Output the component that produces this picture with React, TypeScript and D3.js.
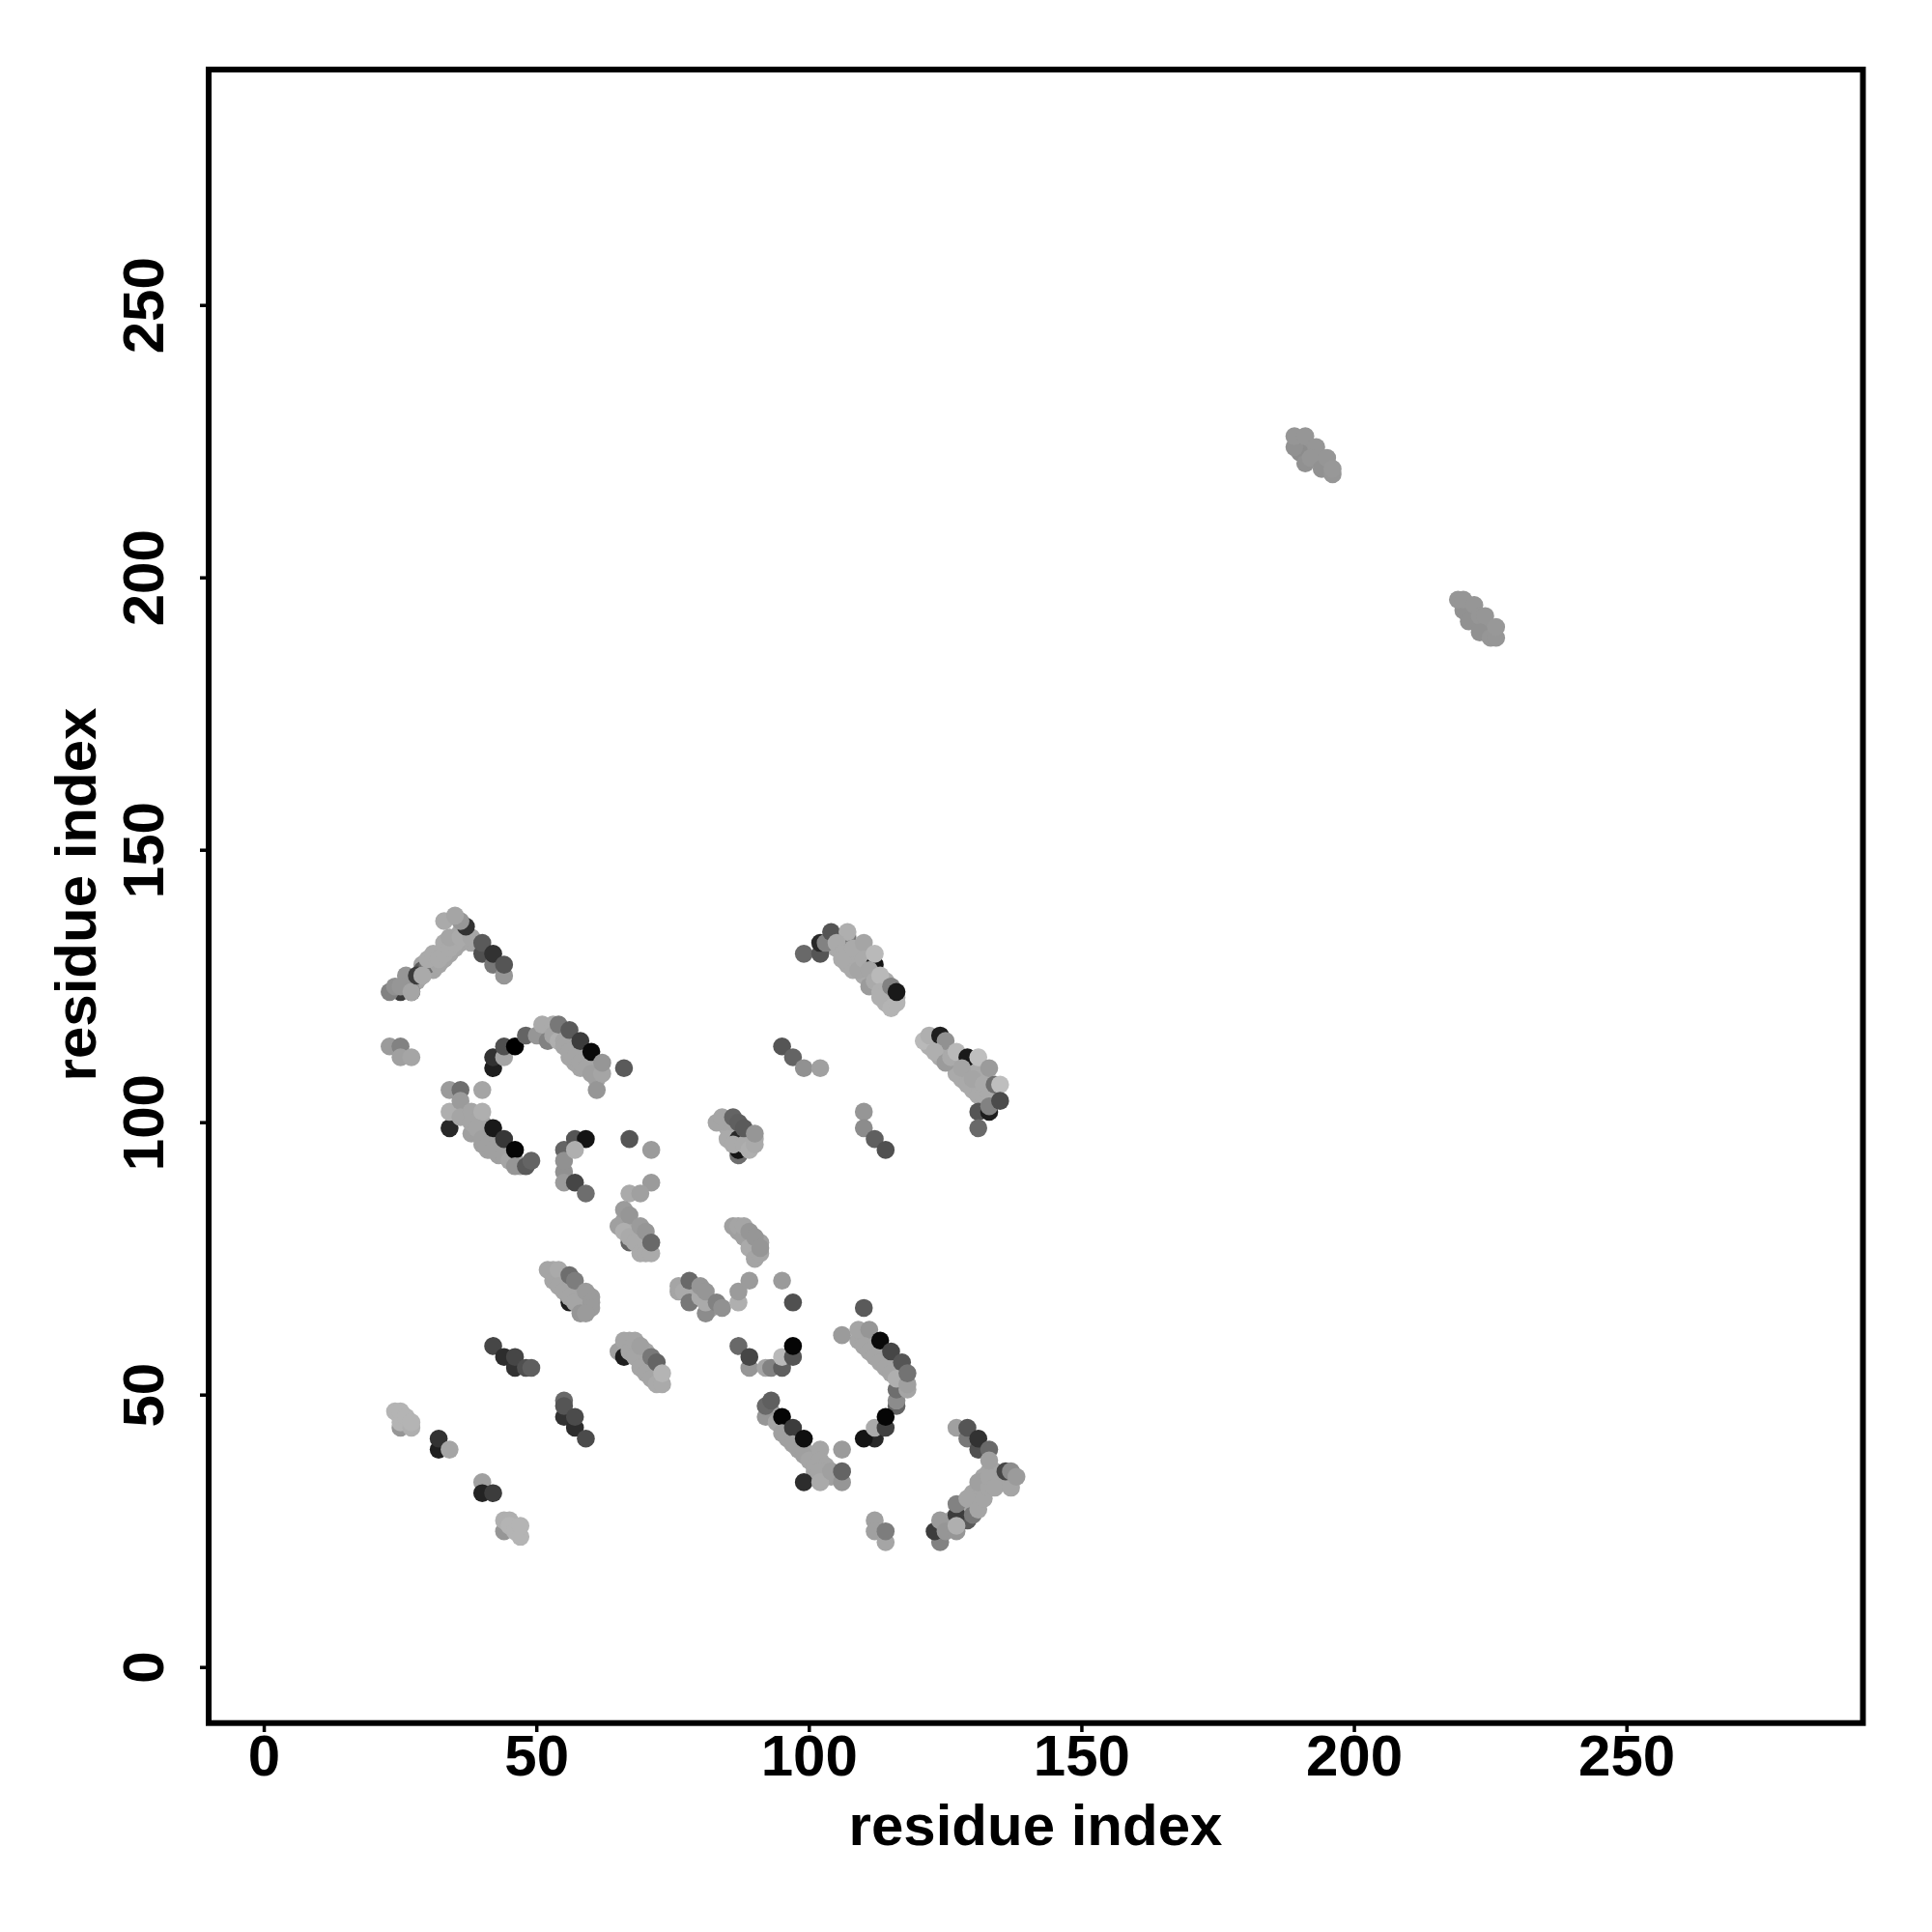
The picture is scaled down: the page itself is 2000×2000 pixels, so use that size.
import React from "react";
import * as d3 from "d3";

type P = [number, number, number];
const xTicks = [0, 50, 100, 150, 200, 250];
const yTicks = [0, 50, 100, 150, 200, 250];
const axisTitle = "residue index";

const fillA: P[] = [[26,125,160],[27,126,165],[28,126,165],[29,127,165],[29,129,165],[30,128,165],[31,129,165],[31,128,165],[32,131,165],[33,130,165],[33,132,165],[34,131,165],[34,133,165],[35,132,165],[35,134,165],[36,133,165],[37,134,165],[36,135,165],[38,133,165]];
const fillB: P[] = [[52,117,170],[53,117,170],[54,116,170],[55,116,165],[56,115,165],[57,114,165],[58,113,165],[59,112,165],[60,111,165],[61,110,165],[60,110,165],[61,108,165],[58,110,165],[57,111,165],[56,112,165]];
const fillC: P[] = [[35,102,170],[36,103,165],[37,102,165],[38,101,165],[39,101,165],[40,100,165],[38,98,160],[39,98,160],[40,96,160],[41,95,160],[42,97,160],[43,94,160],[44,95,160],[45,94,165],[46,93,165]];
const fillE: P[] = [[105,132,170],[106,132,170],[107,131,170],[107,129,170],[108,130,170],[108,128,170],[109,130,170],[109,129,170],[110,128,170],[110,127,170],[111,127,170],[112,127,170],[112,125,170],[113,125,170],[114,126,170],[114,124,175],[114,122,175],[115,123,175],[116,123,175]];
const fillH: P[] = [[122,114,175],[123,114,175],[124,113,170],[124,112,170],[125,112,170],[126,111,170],[127,110,170],[127,109,170],[128,108,170],[129,110,170],[129,107,170],[130,110,170],[130,106,170],[131,109,170],[131,105,170],[132,108,170],[132,105,170],[133,106,170],[134,104,170]];
const fillI: P[] = [[84,100,165],[85,99,170],[86,98,170],[87,98,170],[88,97,170],[88,95,170],[89,97,170],[89,96,170],[90,97,170],[85,100,165]];
const fillJ: P[] = [[66,82,160],[67,81,165],[68,80,165],[68,79,165],[69,79,165],[69,78,170],[70,78,170],[70,77,170],[66,81,165]];
const fillK: P[] = [[87,80,160],[88,80,160],[89,79,160],[89,78,165],[90,78,165],[90,77,165],[91,78,160]];
const fillL: P[] = [[53,73,170],[53,72,165],[54,72,165],[55,71,165],[56,70,165],[57,69,160],[58,68,160],[58,67,160],[59,67,160],[59,68,155],[60,68,155],[55,72,165]];
const fillM: P[] = [[76,69,165],[77,70,165],[78,69,165],[79,68,165],[79,70,165],[80,69,165],[81,68,165],[82,67,160],[82,66,160]];
const fillT: P[] = [[66,59,165],[67,59,165],[67,60,165],[68,59,165],[69,58,165],[69,57,165],[70,58,165],[70,56,165],[71,55,165],[71,54,165],[72,54,170],[72,53,170]];
const fillU: P[] = [[93,47,160],[94,46,160],[95,44,160],[96,44,160],[96,42,160],[97,43,160],[98,40,160],[98,42,160],[99,40,160],[100,39,165],[101,39,165],[101,36,165],[102,35,165],[103,35,165],[103,36,165],[104,35,160]];
const fillW: P[] = [[109,60,165],[110,60,165],[110,61,165],[111,60,165],[112,58,165],[113,58,165],[114,56,165],[115,56,165],[116,55,165]];
const fillX: P[] = [[125,26,155],[126,27,160],[126,26,160],[127,27,165],[128,28,165],[128,29,165],[128,30,165],[129,30,165],[130,32,165],[130,30,165],[131,32,165],[131,31,165],[132,33,165],[133,34,165],[133,36,165],[134,35,165],[135,34,165],[134,36,165],[132,35,165]];
const fillUpper: P[] = [[190,225,148],[190,224,148],[192,224,150],[192,223,150],[193,222,150],[194,222,150],[195,221,150],[195,220,150]];
const fillLower: P[] = [[220,195,148],[221,195,148],[221,194,150],[222,193,150],[223,192,150],[224,191,150],[225,190,150],[224,190,150]];

const archA: P[] = [[25,124,60],[27,124,70],[23,124,130],[24,125,145],[26,127,150],[25,125,150],[27,124,165],[29,128,90],[28,127,60],[30,129,110],[29,127,170],[31,130,110],[32,129,165],[30,130,170],[31,131,170],[32,130,170],[33,131,170],[33,133,170],[34,132,170],[35,133,170],[34,134,165],[36,134,170],[38,134,165],[37,136,50],[33,137,170],[36,137,150],[35,138,165],[40,131,80],[40,133,90],[42,129,120],[42,131,50],[44,127,150],[44,129,85]];
const archB: P[] = [[23,114,155],[25,114,130],[25,112,160],[27,112,165],[42,110,30],[42,112,50],[44,112,165],[44,114,80],[46,114,0],[48,116,100],[50,116,150],[52,115,130],[51,118,170],[53,118,170],[53,116,165],[54,115,175],[54,118,120],[55,115,165],[55,114,165],[56,113,165],[57,112,165],[58,111,165],[59,110,165],[60,109,160],[56,117,90],[58,115,60],[60,113,10],[66,110,90],[61,106,150],[62,109,165],[62,111,150]];
const archC: P[] = [[34,106,155],[36,106,110],[40,106,165],[34,99,40],[34,102,175],[36,104,155],[36,101,165],[38,102,165],[38,100,165],[40,102,175],[39,99,165],[40,97,160],[41,96,160],[42,95,160],[44,94,160],[45,93,165],[42,99,25],[44,97,55],[46,95,5],[47,92,165],[46,92,150],[48,92,90],[49,93,100]];
const clusterD: P[] = [[55,95,100],[55,91,145],[55,93,145],[55,89,155],[57,97,85],[59,97,20],[57,95,175],[57,89,70],[59,87,110],[67,97,85],[71,95,155],[71,89,155],[67,87,170],[69,87,160]];
const archE: P[] = [[99,131,105],[102,131,85],[102,133,40],[103,133,130],[104,135,85],[107,134,120],[107,135,175],[105,133,170],[106,131,170],[106,130,170],[108,132,170],[109,128,165],[110,133,165],[110,130,170],[112,129,20],[112,131,185],[111,128,165],[111,125,155],[112,126,170],[113,127,185],[113,124,175],[113,123,175],[115,125,130],[115,121,180],[116,122,180],[116,124,25]];
const clusterF: P[] = [[95,114,85],[97,112,100],[99,110,145],[102,110,160]];
const clusterG: P[] = [[110,102,150],[110,99,140],[112,97,95],[114,95,80]];
const archH: P[] = [[121,115,185],[122,116,175],[124,116,30],[125,115,145],[123,113,175],[125,111,155],[126,112,170],[127,113,185],[129,112,25],[128,110,165],[130,108,165],[131,112,190],[132,107,170],[133,110,155],[133,105,170],[134,107,110],[135,107,190],[131,102,85],[133,102,30],[133,103,130],[135,104,75],[131,99,105]];
const clusterI: P[] = [[83,100,165],[84,101,165],[85,97,170],[87,94,110],[87,95,20],[87,97,40],[86,96,170],[88,96,170],[89,95,175],[86,101,100],[87,100,95],[88,99,90],[90,96,170],[90,98,150]];
const clusterJ: P[] = [[65,81,160],[66,84,155],[67,83,150],[66,80,175],[67,78,100],[67,79,170],[68,78,170],[69,81,155],[69,76,170],[70,76,170],[70,80,150],[71,76,170],[71,78,105]];
const clusterK: P[] = [[86,81,160],[87,81,165],[88,79,160],[88,81,165],[89,80,150],[89,77,170],[90,79,150],[90,75,165],[91,76,165],[91,77,150]];
const clusterL: P[] = [[52,73,165],[53,71,165],[54,73,170],[54,70,165],[55,69,165],[56,67,30],[56,68,165],[57,67,165],[58,65,150],[56,72,110],[57,71,125],[59,69,155],[60,67,155],[60,66,155],[59,65,155]];
const clusterM: P[] = [[76,70,165],[77,69,170],[78,67,120],[78,71,105],[80,68,170],[80,70,150],[81,65,140],[81,67,170],[81,69,150],[83,67,130],[84,66,145],[87,67,175],[87,69,155],[89,71,155],[95,71,155],[97,67,80]];
const clusterN: P[] = [[42,59,70],[44,57,45],[46,55,50],[46,57,70],[48,55,80],[49,55,95]];
const clusterO: P[] = [[55,49,105],[55,46,50],[55,48,85],[57,44,45],[57,46,75],[59,42,75]];
const clusterP: P[] = [[25,44,150],[24,47,180],[25,47,180],[25,45,180],[26,46,180],[27,44,175],[27,45,180]];
const clusterQ: P[] = [[32,40,30],[32,42,50],[34,40,165]];
const clusterR: P[] = [[40,34,160],[40,32,35],[42,32,60]];
const clusterS: P[] = [[44,25,150],[44,27,175],[45,27,175],[45,26,180],[46,25,180],[47,24,180],[47,26,180]];
const clusterT: P[] = [[65,58,160],[66,57,30],[66,60,165],[67,58,165],[68,60,165],[68,57,165],[69,59,160],[69,55,165],[70,54,165],[71,57,120],[71,53,165],[72,56,100],[72,52,170],[73,52,170],[73,54,180]];
const clusterV: P[] = [[87,59,105],[89,55,150],[89,57,70],[92,55,165],[93,55,130],[95,55,95],[95,57,185],[97,57,85],[97,59,5]];
const archU: P[] = [[92,46,150],[92,48,105],[93,49,95],[94,45,165],[95,46,5],[95,43,160],[97,44,60],[97,41,160],[99,39,160],[99,42,15],[99,34,45],[100,38,165],[101,37,165],[102,40,165],[102,38,165],[103,37,165],[102,36,165],[102,34,170],[104,36,160],[106,40,155],[106,34,150],[106,36,100]];
const archW: P[] = [[110,66,90],[106,61,155],[109,62,165],[111,62,150],[110,59,165],[111,58,165],[112,57,165],[113,56,165],[114,55,165],[115,54,165],[113,60,10],[115,58,70],[117,56,85],[116,48,100],[116,49,140],[116,51,110],[116,53,175],[118,51,165],[118,52,160],[118,54,115],[112,42,40],[110,42,20],[112,44,170],[114,44,65],[114,46,5]];
const clusterY: P[] = [[112,27,160],[112,25,160],[114,23,165],[114,25,125]];
const archX: P[] = [[127,44,160],[129,42,120],[129,44,85],[131,40,80],[131,42,50],[133,40,105],[124,23,130],[123,25,60],[124,27,155],[125,25,150],[127,25,150],[129,27,90],[127,28,60],[127,26,175],[127,30,130],[130,28,120],[129,31,165],[131,29,165],[132,31,165],[131,34,160],[133,33,165],[133,35,165],[134,33,165],[133,38,160],[137,33,165],[136,36,70],[137,36,140],[138,35,155]];
const blobUpper: P[] = [[190,223,140],[189,224,145],[189,226,150],[191,226,150],[191,221,145],[193,224,150],[192,222,150],[194,220,145],[195,222,150],[196,219,150],[196,220,152]];
const blobLower: P[] = [[220,194,145],[219,196,150],[220,196,150],[222,195,150],[221,192,145],[223,193,150],[224,193,150],[223,190,145],[225,189,150],[226,189,150],[226,191,152]];

const points: P[] = [fillA, fillB, fillC, fillE, fillH, fillI, fillJ, fillK, fillL, fillM, fillT, fillU, fillW, fillX, fillUpper, fillLower, archA, archB, archC, clusterD, archE, clusterF, clusterG, archH, clusterI, clusterJ, clusterK, clusterL, clusterM, clusterN, clusterO, clusterP, clusterQ, clusterR, clusterS, clusterT, clusterV, archU, archW, clusterY, archX, blobUpper, blobLower].flat();

const font = "'Liberation Sans', Arial, sans-serif";

export default function App() {
  const x = d3.scaleLinear().domain([-10.2, 293.3]).range([216, 1928.5]);
  const y = d3.scaleLinear().domain([-10.2, 293.3]).range([1783.7, 72]);
  return (
    <svg width={2000} height={2000} style={{ position: "absolute", left: 0, top: 0 }} fontFamily={font} fontWeight="bold" fill="#000">
      <rect width={2000} height={2000} fill="#fff" />
      {points.map((d, i) => (
        <circle key={i} cx={x(d[0])} cy={y(d[1])} r={9.3} fill={d3.rgb(d[2], d[2], d[2]).formatHex()} />
      ))}
      <rect x={216} y={72} width={1712.5} height={1711.7} fill="none" stroke="#000" strokeWidth={6} />
      {xTicks.map((t) => (
        <g key={t}>
          <line x1={x(t)} x2={x(t)} y1={1784} y2={1793} stroke="#000" strokeWidth={3.5} />
          <text x={x(t)} y={1838} textAnchor="middle" fontSize={60}>{t}</text>
        </g>
      ))}
      {yTicks.map((t) => (
        <g key={t}>
          <line x1={207} x2={216} y1={y(t)} y2={y(t)} stroke="#000" strokeWidth={3.5} />
          <text transform={`translate(169,${y(t)}) rotate(-90)`} textAnchor="middle" fontSize={60}>{t}</text>
        </g>
      ))}
      <text x={1072} y={1910} textAnchor="middle" fontSize={60}>{axisTitle}</text>
      <text transform={`translate(99,926) rotate(-90)`} textAnchor="middle" fontSize={60}>{axisTitle}</text>
    </svg>
  );
}
